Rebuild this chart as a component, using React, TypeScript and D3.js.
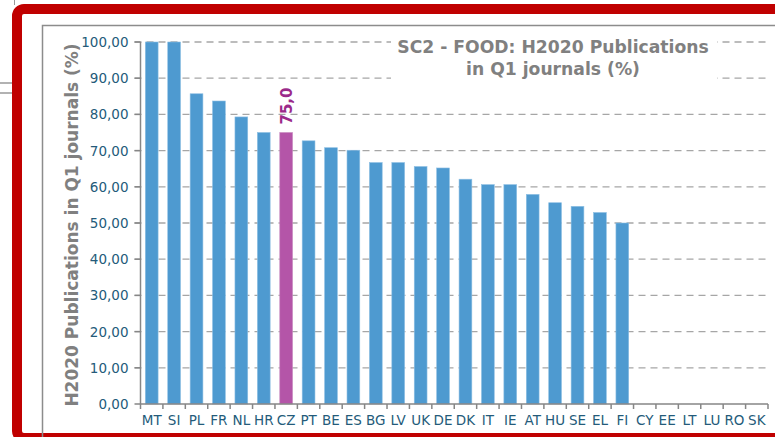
import React from "react";
import * as d3 from "d3";

const categories = ["MT","SI","PL","FR","NL","HR","CZ","PT","BE","ES","BG","LV","UK","DE","DK","IT","IE","AT","HU","SE","EL","FI","CY","EE","LT","LU","RO","SK"];
const values: (number | null)[] = [100,100,85.7,83.7,79.3,75,75,72.7,70.8,70.1,66.7,66.7,65.6,65.2,62.1,60.6,60.6,57.9,55.6,54.6,52.9,50,null,null,null,null,null,null];
const yTicks = [0,10,20,30,40,50,60,70,80,90,100];
const highlight = "CZ";
const highlightLabel = "75,0";
const titleLines = ["SC2 - FOOD: H2020 Publications", "in Q1 journals (%)"];
const yTitle = "H2020 Publications in Q1 journals (%)";

const W = 775, H = 437;
const plot = { left: 140.5, right: 768, top: 42, bottom: 404 };
const font = "Verdana, 'DejaVu Sans', sans-serif";

export default function App() {
  const x = d3.scaleBand<string>().domain(categories).range([plot.left, plot.right]).paddingInner(0.43).paddingOuter(0.215);
  const xb = d3.scaleBand<string>().domain(categories).range([plot.left, plot.right]);
  const y = d3.scaleLinear().domain([0, 100]).range([plot.bottom, plot.top]);
  const fmt = (v: number) => v.toFixed(2).replace(".", ",");
  const hv = values[categories.indexOf(highlight)] as number;
  const hx = (x(highlight) as number) + x.bandwidth() / 2;

  return (
    <svg width={W} height={H} style={{ position: "absolute", left: 0, top: 0, background: "#fff" }} fontFamily={font}>
      <line x1={14.5} y1={0} x2={14.5} y2={5} stroke="#999" strokeWidth={1} />
      <line x1={0} y1={83} x2={12} y2={83} stroke="#999" strokeWidth={1.5} />
      <line x1={0} y1={93} x2={12} y2={93} stroke="#999" strokeWidth={1.5} />
      <rect x={17} y={9} width={820} height={429} rx={7} fill="#fff" stroke="#c00000" strokeWidth={10} />
      <rect x={42.5} y={25.5} width={800} height={450} fill="none" stroke="#8c8c8c" strokeWidth={1.5} />
      {yTicks.filter(t => t > 0).map(t => (
        <line key={t} x1={plot.left - 6} x2={plot.right} y1={y(t)} y2={y(t)} stroke="#a6a6a6" strokeWidth={1.3} strokeDasharray="7,5" />
      ))}
      <rect x={391} y={33} width={326} height={48} fill="#fff" />
      {titleLines.map((t, i) => (
        <text key={i} x={553} y={53 + i * 22} textAnchor="middle" fontSize={17.2} fontWeight="bold" fill="#808080">{t}</text>
      ))}
      {categories.map((c, i) => {
        const v = values[i];
        if (v == null) return null;
        const isH = c === highlight;
        return (
          <rect key={c} x={x(c)} y={y(v)} width={x.bandwidth()} height={y(0) - y(v)}
            fill={isH ? "#b455a8" : "#4e9ad0"} stroke={isH ? "#c98cc0" : "#8dbfe3"} strokeWidth={0.6} />
        );
      })}
      <text transform={`translate(${hx + 5.5},${y(hv) - 8}) rotate(-90)`} fontSize={15} fontWeight="bold" fill="#9b2a8a">{highlightLabel}</text>
      <line x1={plot.left} x2={plot.left} y1={plot.top} y2={plot.bottom} stroke="#868686" strokeWidth={1.5} />
      {yTicks.map(t => (
        <g key={t}>
          <line x1={plot.left - 6} x2={plot.left} y1={y(t)} y2={y(t)} stroke="#868686" strokeWidth={1.5} />
          <text x={plot.left - 12} y={y(t) + 5} textAnchor="end" fontSize={13.5} fill="#245b7a">{fmt(t)}</text>
        </g>
      ))}
      <line x1={plot.left} x2={plot.right} y1={plot.bottom} y2={plot.bottom} stroke="#868686" strokeWidth={1.5} />
      {categories.map(c => (
        <line key={"t" + c} x1={(xb(c) as number) + xb.bandwidth()} x2={(xb(c) as number) + xb.bandwidth()} y1={plot.bottom} y2={plot.bottom + 5} stroke="#868686" strokeWidth={1.5} />
      ))}
      <line x1={plot.left} x2={plot.left} y1={plot.bottom} y2={plot.bottom + 5} stroke="#868686" strokeWidth={1.5} />
      {categories.map(c => (
        <text key={"l" + c} x={(xb(c) as number) + xb.bandwidth() / 2} y={plot.bottom + 21} textAnchor="middle" fontSize={13.5} fill="#245b7a">{c}</text>
      ))}
      <text transform={`translate(78,${(plot.top + plot.bottom) / 2 + 2}) rotate(-90)`} textAnchor="middle" fontSize={17} fontWeight="bold" fill="#808080">{yTitle}</text>
    </svg>
  );
}
